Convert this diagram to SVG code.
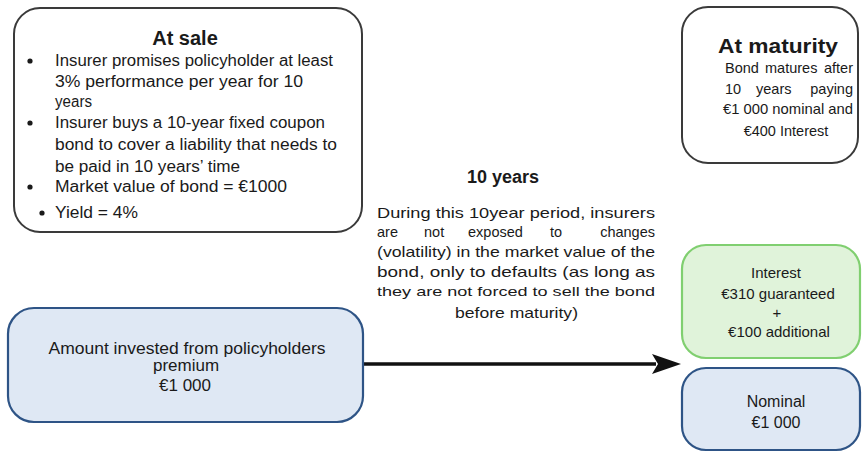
<svg xmlns="http://www.w3.org/2000/svg" width="864" height="452" viewBox="0 0 864 452">
<defs>
<style>
text{font-family:"Liberation Sans","Open Sans",Arial,sans-serif;fill:#1a1a1a}
.title{font-weight:bold;font-size:20px;text-anchor:middle}
.s17{font-size:17px}
.s16{font-size:16px}
.s15{font-size:15px}
.s14{font-size:14.5px}
.s13{font-size:13.5px}
.mid{text-anchor:middle}
.end{text-anchor:end}
.plain{fill:#ffffff;stroke:#3a3a3a;stroke-width:2}
.blue{fill:#dfe8f4;stroke:#2e5486;stroke-width:2.2}
.green{fill:#e0f3da;stroke:#80cf70;stroke-width:2.2}
.conn{stroke:#111;stroke-width:3.5;fill:none}
.dot{fill:#1a1a1a}
</style>
</defs>
<rect width="864" height="452" fill="#ffffff"/>

<g id="connectors">
<line class="conn" x1="363" y1="364" x2="656" y2="364"/>
<path d="M652,354 L681,364 L652,374 L658,364 Z" fill="#111"/>
</g>

<g id="at-sale">
<rect class="plain" x="14" y="8" width="348" height="224" rx="26"/>
<text class="title" x="185" y="45">At sale</text>
<circle class="dot" cx="30" cy="61" r="2.6"/>
<text class="s16" x="55" y="66" textLength="278" lengthAdjust="spacingAndGlyphs">Insurer promises policyholder at least</text>
<text class="s16" x="55" y="87" textLength="248" lengthAdjust="spacingAndGlyphs">3% performance per year for 10</text>
<text class="s16" x="55" y="107" textLength="37" lengthAdjust="spacingAndGlyphs">years</text>
<circle class="dot" cx="30" cy="123" r="2.6"/>
<text class="s16" x="55" y="128" textLength="270" lengthAdjust="spacingAndGlyphs">Insurer buys a 10-year fixed coupon</text>
<text class="s16" x="55" y="150" textLength="282" lengthAdjust="spacingAndGlyphs">bond to cover a liability that needs to</text>
<text class="s16" x="55" y="172" textLength="185" lengthAdjust="spacingAndGlyphs">be paid in 10 years’ time</text>
<circle class="dot" cx="30" cy="187" r="2.6"/>
<text class="s16" x="55" y="192" textLength="232" lengthAdjust="spacingAndGlyphs">Market value of bond = €1000</text>
<circle class="dot" cx="42" cy="213" r="2.6"/>
<text class="s16" x="55" y="218" textLength="83" lengthAdjust="spacingAndGlyphs">Yield = 4%</text>
</g>

<g id="at-maturity">
<rect class="plain" x="682" y="7" width="176" height="156" rx="26"/>
<text class="title" x="778" y="53" textLength="120" lengthAdjust="spacingAndGlyphs">At maturity</text>
<text class="s14" x="725" y="73">Bond</text>
<text class="s14" x="765" y="73">matures</text>
<text class="s14 end" x="853" y="73">after</text>
<text class="s14" x="725" y="94">10</text>
<text class="s14" x="756" y="94">years</text>
<text class="s14 end" x="853" y="94">paying</text>
<text class="s14" x="723" y="114" textLength="130" lengthAdjust="spacingAndGlyphs">€1 000 nominal and</text>
<text class="s14 mid" x="786" y="136">€400 Interest</text>
</g>

<g id="ten-years">
<text class="title" x="503" y="183" style="font-size:18px">10 years</text>
<text class="s14" x="377" y="218" textLength="278" lengthAdjust="spacingAndGlyphs">During this 10year period, insurers</text>
<text class="s14" x="377" y="237">are</text>
<text class="s14" x="424" y="237">not</text>
<text class="s14" x="468" y="237">exposed</text>
<text class="s14" x="550" y="237">to</text>
<text class="s14 end" x="655" y="237">changes</text>
<text class="s14" x="377" y="257" textLength="278" lengthAdjust="spacingAndGlyphs">(volatility) in the market value of the</text>
<text class="s14" x="377" y="277" textLength="278" lengthAdjust="spacingAndGlyphs">bond, only to defaults (as long as</text>
<text class="s13" x="377" y="296" textLength="278" lengthAdjust="spacingAndGlyphs">they are not forced to sell the bond</text>
<text class="s14" x="455" y="318" textLength="123" lengthAdjust="spacingAndGlyphs">before maturity)</text>
</g>

<g id="invested">
<rect class="blue" x="8" y="308" width="355" height="114" rx="26"/>
<text class="s16 mid" x="187" y="354" textLength="277" lengthAdjust="spacingAndGlyphs">Amount invested from policyholders</text>
<text class="s17 mid" x="186" y="371">premium</text>
<text class="s17 mid" x="185" y="391">€1 000</text>
</g>

<g id="interest">
<rect class="green" x="682" y="245" width="178" height="113" rx="24"/>
<text class="s15 mid" x="776" y="278">Interest</text>
<text class="s15 mid" x="778" y="299">€310 guaranteed</text>
<text class="s15 mid" x="777" y="318">+</text>
<text class="s15 mid" x="779" y="337">€100 additional</text>
</g>

<g id="nominal">
<rect class="blue" x="682" y="368" width="178" height="82" rx="24"/>
<text class="s16 mid" x="776" y="407">Nominal</text>
<text class="s16 mid" x="776" y="428">€1 000</text>
</g>
</svg>
